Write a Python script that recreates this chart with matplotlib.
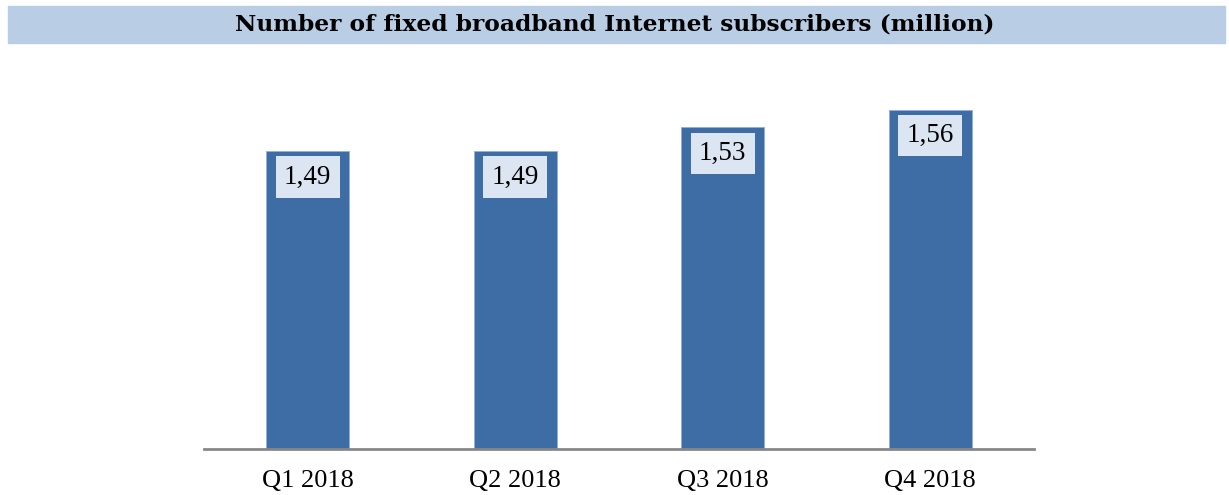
import matplotlib.pyplot as plt
from matplotlib.patches import Rectangle

quarters = ["Q1 2018", "Q2 2018", "Q3 2018", "Q4 2018"]
subscribers = [1.49, 1.49, 1.53, 1.56]
labels = ["1,49", "1,49", "1,53", "1,56"]

title = "Number of fixed broadband Internet subscribers (million)"
bar_color = "#3E6CA4"
box_color = "#DCE6F2"
serif = ["Liberation Serif", "DejaVu Serif"]

fig = plt.figure(figsize=(12.29, 4.95), dpi=100)

# title band
fig.patches.append(Rectangle((8 / 1229, 1 - 43 / 495), 1217 / 1229, 37 / 495,
                             transform=fig.transFigure, color="#B9CDE4", zorder=0))
fig.text(0.5, 1 - 25 / 495, title, ha="center", va="center",
         fontsize=16.8, fontweight="bold", family=["DejaVu Serif"])

ax = fig.add_axes([204 / 1229, 46 / 495, 830 / 1229, 370 / 495])
x = range(len(quarters))
ax.bar(x, subscribers, width=0.4, color=bar_color, edgecolor="#8FAEDA", linewidth=0.6, zorder=2)

ax.set_xlim(-0.5, len(quarters) - 0.5)
ax.set_ylim(0.985, 0.985 + 370 / 590)

for i, (v, lab) in enumerate(zip(subscribers, labels)):
    ax.annotate(lab, (i, v), xytext=(0, -26), textcoords="offset pixels",
                ha="center", va="center", fontsize=19.5, family=serif, zorder=3,
                bbox=dict(boxstyle="square,pad=0.3", fc=box_color, ec="none"))

ax.set_xticks(list(x))
ax.set_xticklabels(quarters, fontsize=19, family=serif)
ax.tick_params(axis="x", length=0, pad=15)
ax.set_yticks([])
for side in ["left", "right", "top"]:
    ax.spines[side].set_visible(False)
ax.spines["bottom"].set_color("#878787")
ax.spines["bottom"].set_linewidth(2)

fig.savefig("out.png", dpi=100)
